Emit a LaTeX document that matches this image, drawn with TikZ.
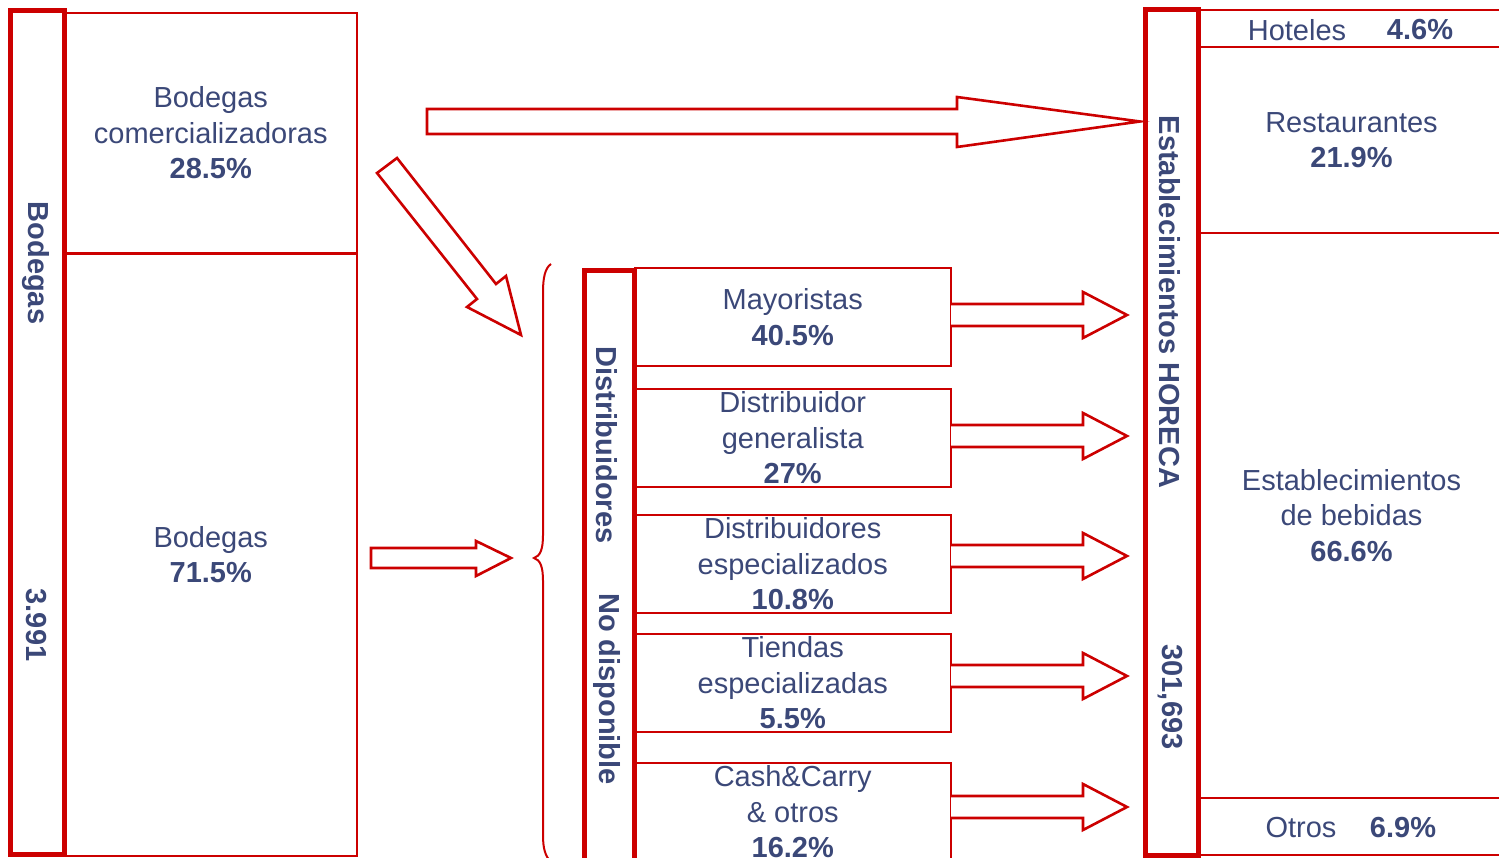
\documentclass[tikz,border=0pt]{standalone}
\usepackage{fontspec}
\setmainfont{Liberation Sans}
\definecolor{tred}{RGB}{204,0,0}
\definecolor{tblue}{RGB}{59,72,120}
\begin{document}
\begin{tikzpicture}[x=1pt,y=-1pt,
  thickbox/.style={draw=tred,line width=5pt,rectangle,inner sep=0pt},
  thinbox/.style={draw=tred,line width=2pt,rectangle,inner sep=0pt,text=tblue,align=center,font=\fontsize{29}{35.5}\selectfont},
  rbox/.style={thinbox,line width=2.8pt},
  txt/.style={text=tblue,inner sep=0pt,font=\fontsize{29}{35.5}\selectfont},
  vtxt/.style={text=tblue,inner sep=0pt,rotate=-90,font=\fontsize{29}{35.5}\selectfont\bfseries},
  barrow/.style={draw=tred,line width=2.6pt,fill=white,line join=miter}]
\useasboundingbox (0,0) rectangle (1499,858);
\clip (0,0) rectangle (1499,858);
% left column
\node[thinbox,minimum width=292.5pt,minimum height=240pt] (com) at (210.75,133) {Bodegas\\comercializadoras\\\textbf{28.5\%}};
\node[thinbox,minimum width=292.5pt,minimum height=603pt] (bdg) at (210.75,554.5) {Bodegas\\\textbf{71.5\%}};
\draw[tred,line width=3pt] (com.south west) -- (com.south east);
\node[thickbox,minimum width=54pt,minimum height=843.5pt] (bodegas) at (37.5,432.25) {};
\node[vtxt] (lb1) at (36,263) {Bodegas};
\node[vtxt] (lb2) at (36,625) {3.991};
% middle column
\node[thinbox,minimum width=316.5pt,minimum height=98pt] (may) at (792.75,317) {Mayoristas\\\textbf{40.5\%}};
\node[thinbox,minimum width=316.5pt,minimum height=98pt] (gen) at (792.75,438) {Distribuidor\\generalista\\\textbf{27\%}};
\node[thinbox,minimum width=316.5pt,minimum height=98pt] (esp) at (792.75,564) {Distribuidores\\especializados\\\textbf{10.8\%}};
\node[thinbox,minimum width=316.5pt,minimum height=98pt] (tie) at (792.75,683) {Tiendas\\especializadas\\\textbf{5.5\%}};
\node[thinbox,minimum width=316.5pt,minimum height=98pt] (cash) at (792.75,812) {Cash\&Carry\\\& otros\\\textbf{16.2\%}};
\node[thickbox,minimum width=50pt,minimum height=599pt] (dist) at (609.5,570.5) {};
\node[vtxt] (ld1) at (607,445) {Distribuidores};
\node[vtxt] (ld2) at (607,689) {No disponible};
% right column
\node[rbox,minimum width=307pt,minimum height=37pt] (hot) at (1351.5,28.5) {};
\node[txt] (hot1) at (1297,30) {Hoteles};
\node[txt] (hot2) at (1420,30) {\textbf{4.6\%}};
\node[rbox,minimum width=307pt,minimum height=186pt] (res) at (1351.5,140) {Restaurantes\\\textbf{21.9\%}};
\node[rbox,minimum width=307pt,minimum height=565pt] (beb) at (1351.5,515.5) {Establecimientos\\de bebidas\\\textbf{66.6\%}};
\node[rbox,minimum width=307pt,minimum height=57pt] (otr) at (1351.5,826.5) {};
\node[txt] (otr1) at (1301,828) {Otros};
\node[txt] (otr2) at (1403,828) {\textbf{6.9\%}};
\node[thickbox,minimum width=53pt,minimum height=845pt] (horeca) at (1171.5,432.5) {};
\node[vtxt] (lh1) at (1170,302) {Establecimientos HORECA};
\node[vtxt] (lh2) at (1170,697) {301,693};
% block arrows
\draw[barrow] (427,109) -- (957,109) -- (957,97) -- (1140,121.5) -- (957,147) -- (957,134) -- (427,134) -- cycle;
\draw[barrow] (377,173) -- (397,158) -- (496,284) -- (506,276) -- (521,335) -- (467,307) -- (477,299) -- cycle;
\draw[barrow] (371,548) -- (476,548) -- (476,541) -- (511,558) -- (476,576) -- (476,568) -- (371,568) -- cycle;
\foreach \c in {315,436,556,676,807}{
  \draw[barrow] (951,\c-11) -- (1083,\c-11) -- (1083,\c-23) -- (1127,\c) -- (1083,\c+23) -- (1083,\c+11) -- (951,\c+11);
}
% brace
\draw[tred,line width=2pt] (551,264) .. controls (545,268) and (543,278) .. (543,292) -- (543,535) .. controls (543,550) and (540,556) .. (534,558) .. controls (540,560) and (543,566) .. (543,581) -- (543,835) .. controls (543,848) and (545,856) .. (551,862);
\end{tikzpicture}
\end{document}
